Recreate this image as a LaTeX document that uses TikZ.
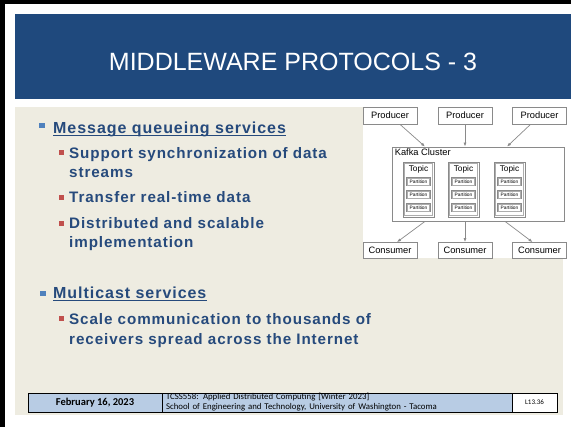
\documentclass[tikz,border=0pt]{standalone}
\usepackage{fontspec}
\setmainfont{Liberation Sans}
\newfontfamily\slidefont[LetterSpace=6]{Liberation Sans}
\newfontfamily\footfont{Carlito}
\usetikzlibrary{arrows.meta}
\definecolor{bannerblue}{HTML}{1F497D}
\definecolor{slidebg}{HTML}{EEECE1}
\definecolor{textblue}{HTML}{264A7C}
\definecolor{bulletblue}{HTML}{4F81BD}
\definecolor{bulletred}{HTML}{C0504D}
\definecolor{footblue}{HTML}{B8CCE4}
\definecolor{boxgray}{HTML}{8A8A8A}

\begin{document}
\begin{tikzpicture}[x=1pt, y=-1pt, >=Latex,
    item/.style={anchor=base west, inner sep=0, text=textblue, font=\slidefont\bfseries\fontsize{16}{18}\selectfont},
    subitem/.style={item, font=\slidefont\bfseries\fontsize{15.2}{18}\selectfont},
    box/.style={draw=boxgray, line width=0.8pt, fill=white, inner sep=0, minimum width=54, minimum height=17, font=\fontsize{9.3}{10}\selectfont},
    topicbox/.style={draw=boxgray, line width=0.8pt, minimum width=31, minimum height=55},
    partbox/.style={draw=boxgray, line width=0.6pt, inner sep=0, minimum width=24, minimum height=8.5, font=\fontsize{4.8}{5}\selectfont},
    inner/.style={draw=boxgray!70, line width=0.5pt},
    arr/.style={-{Latex[length=4pt,width=3pt]}, draw=boxgray, line width=0.7pt},
    fcell/.style={draw=black, line width=0.6pt, inner sep=0, minimum height=19, font=\footfont\fontsize{10.5}{12}\selectfont}]
    \useasboundingbox (0,0) rectangle (571,427);
    \fill[white] (0,0) rectangle (571,427);
    \fill[black] (0,0) rectangle (571,4.5);
    \fill[black] (0,0) rectangle (4.5,427);
    \fill[bannerblue] (15,14) rectangle (571,99);
    \fill[slidebg] (15,107) rectangle (563,415);
    \node[text=white, font=\fontsize{25}{30}\selectfont] (title) at (293,62) {MIDDLEWARE PROTOCOLS - 3};

    % bullets
    \fill[bulletblue] (39,123) rectangle (44.5,128.5);
    \node[item] (mq) at (53,134) {Message queueing services};
    \draw[textblue, line width=1pt] ([yshift=-2pt]mq.base west) -- ([yshift=-2pt]mq.base east);
    \foreach \y in {150,195,221} \fill[bulletred] (59,\y) rectangle (64,\y+5);
    \node[subitem] (sync) at (69,159) {Support synchronization of data};
    \node[subitem] (sync2) at (69,178) {streams};
    \node[subitem] (rt) at (69,203) {Transfer real-time data};
    \node[subitem] (dist) at (69,229) {Distributed and scalable};
    \node[subitem] (dist2) at (69,248) {implementation};

    \fill[bulletblue] (40,291) rectangle (45.5,296.5);
    \node[item] (mc) at (53,299) {Multicast services};
    \draw[textblue, line width=1pt] ([yshift=-2pt]mc.base west) -- ([yshift=-2pt]mc.base east);
    \fill[bulletred] (59,316) rectangle (64,321);
    \node[subitem] (scale) at (69,325) {Scale communication to thousands of};
    \node[subitem] (scale2) at (69,345) {receivers spread across the Internet};

    % kafka picture
    \fill[white] (363,103) rectangle (571,258);
    \node[box] (p1) at (390,115.5) {Producer};
    \node[box] (p2) at (465,115.5) {Producer};
    \node[box] (p3) at (539.5,115.5) {Producer};
    \node[draw=boxgray, line width=0.8pt, minimum width=172, minimum height=74] (cluster) at (478,184) {};
    \node[anchor=north west, inner sep=0, font=\fontsize{9.3}{10}\selectfont] (kc) at ([xshift=3pt,yshift=-2pt]cluster.north west) {Kafka Cluster};
    \foreach \x [count=\i] in {418.5,463.5,509.5} {
      \node[topicbox] (t\i) at (\x,189.5) {};
      \draw[inner] ([xshift=2pt,yshift=-2pt]t\i.north west) rectangle ([xshift=-2pt,yshift=2pt]t\i.south east);
      \node[inner sep=0, font=\fontsize{8.3}{9}\selectfont] (t\i l) at (\x,169.5) {Topic};
      \foreach \y [count=\j] in {181.5,194.5,207.5} {
        \node[partbox] (t\i p\j) at (\x,\y) {Partition};
        \draw[inner] ([xshift=1.2pt,yshift=-1.2pt]t\i p\j.north west) rectangle ([xshift=-1.2pt,yshift=1.2pt]t\i p\j.south east);
      }
    }
    \node[box, minimum height=16] (c1) at (390,250.5) {Consumer};
    \node[box, minimum height=16] (c2) at (465,250.5) {Consumer};
    \node[box, minimum height=16] (c3) at (539.5,250.5) {Consumer};
    \draw[arr] ([xshift=10pt]p1.south) -- ([xshift=-53pt]cluster.north);
    \draw[arr] (p2.south) -- (p2.south |- cluster.north);
    \draw[arr] ([xshift=-9pt]p3.south) -- ([xshift=29pt]cluster.north);
    \draw[arr] ([xshift=-53pt]cluster.south) -- ([xshift=7pt]c1.north);
    \draw[arr] (c2.north |- cluster.south) -- (c2.north);
    \draw[arr] ([xshift=27pt]cluster.south) -- ([xshift=-7pt]c3.north);

    % footer
    \node[fcell, fill=footblue, minimum width=134] (date) at (95,402.5) {\bfseries February 16, 2023};
    \node[fcell, fill=footblue, text width=342, inner xsep=4pt, inner ysep=0.5pt, align=left, font=\footfont\fontsize{8.8}{10}\selectfont] (course) at (337,402.5) {TCSS558: Applied Distributed Computing [Winter 2023]\\School of Engineering and Technology, University of Washington - Tacoma};
    \node[fcell, fill=white, minimum width=45, font=\footfont\fontsize{7}{8}\selectfont] (slide) at (534.5,402.5) {L13.36};
  \end{tikzpicture}
\end{document}
